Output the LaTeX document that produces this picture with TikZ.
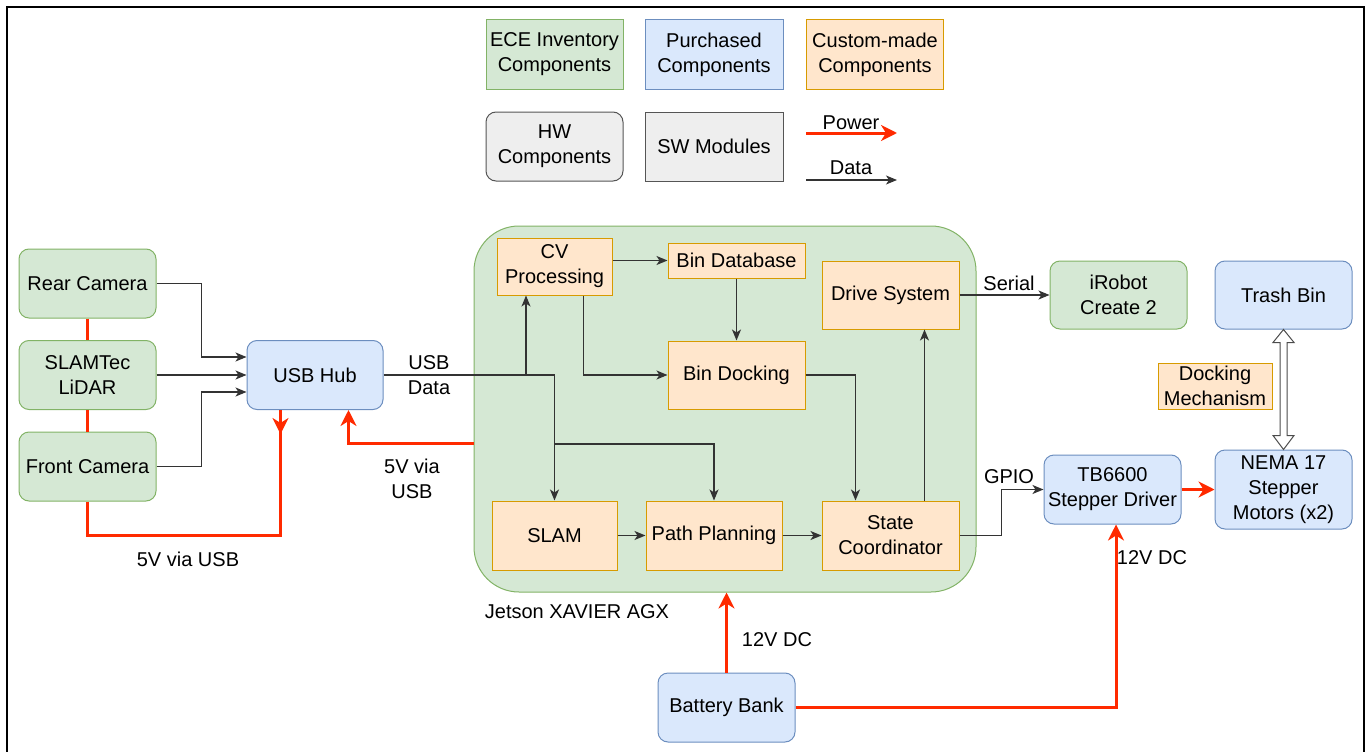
\documentclass[tikz,border=0pt]{standalone}
\usepackage{fontspec}
\setmainfont{Liberation Sans}
\usetikzlibrary{arrows.meta,calc}
\definecolor{ecefill}{HTML}{D5E8D4}
\definecolor{ecedraw}{HTML}{82B366}
\definecolor{buyfill}{HTML}{DAE8FC}
\definecolor{buydraw}{HTML}{6C8EBF}
\definecolor{custfill}{HTML}{FFE6CC}
\definecolor{custdraw}{HTML}{D79B00}
\definecolor{grayfill}{HTML}{EEEEEE}
\definecolor{graydraw}{HTML}{555555}
\definecolor{pwred}{HTML}{FF2A00}

\begin{document}
\begin{tikzpicture}[x=1pt, y=-1pt,
    every node/.style={font=\fontsize{20}{25}\selectfont, align=center, inner sep=2pt},
    compbox/.style={draw, line width=1pt, minimum width=137pt, minimum height=69pt},
    ecebox/.style={compbox, fill=ecefill, draw=ecedraw},
    buybox/.style={compbox, fill=buyfill, draw=buydraw},
    custbox/.style={compbox, fill=custfill, draw=custdraw},
    hwbox/.style={compbox, fill=grayfill, draw=graydraw},
    roundbox/.style={rounded corners=10pt},
    data/.style={draw=black!80, line width=1.2pt, -{Stealth[length=11pt,width=9pt,inset=3pt]}},
    power/.style={draw=pwred, line width=3pt},
    powerarrow/.style={power, -{Stealth[length=16pt,width=16pt,inset=5pt]}},
    lbl/.style={inner sep=0pt}]
    \useasboundingbox (0,0) rectangle (1371,752);
    \draw[line width=2pt] (7,7) rectangle (1364,780);

    % Legend
    \node[ecebox] (legece) at (554.5,54.5) {ECE Inventory\\Components};
    \node[buybox, minimum width=138pt] (legbuy) at (714,54.5) {Purchased\\Components};
    \node[custbox] (legcust) at (875,54.5) {Custom-made\\Components};
    \node[hwbox, roundbox] (leghw) at (554.5,146.5) {HW\\Components};
    \node[hwbox, minimum width=138pt] (legsw) at (714,146.5) {SW Modules};
    \coordinate (legpa) at (806,133);
    \coordinate (legpb) at (897,133);
    \draw[powerarrow] (legpa) -- (legpb);
    \node[lbl] (legpwlbl) at (851,123) {Power};
    \coordinate (legda) at (806,180);
    \coordinate (legdb) at (897,180);
    \draw[data] (legda) -- (legdb);
    \node[lbl] (legdalbl) at (851,168) {Data};

    % Jetson container
    \node[draw=ecedraw, fill=ecefill, line width=1pt, rounded corners=45pt, minimum width=502pt, minimum height=366pt] (jetson) at (725,409) {};
    \node[lbl] (jetsonlbl) at (577,612) {Jetson XAVIER AGX};

    % Sensors
    \node[ecebox, roundbox] (rear) at (87.5,283.5) {Rear Camera};
    \node[ecebox, roundbox] (lidar) at (87.5,375) {SLAMTec\\LiDAR};
    \node[ecebox, roundbox] (front) at (87.5,466.5) {Front Camera};
    \node[buybox, roundbox, minimum width=136pt] (hub) at (315,375) {USB Hub};

    % SW modules
    \node[custbox, minimum width=115pt, minimum height=57pt] (cv) at (554.5,266.5) {CV\\Processing};
    \node[custbox, minimum height=35pt] (bindb) at (736.5,260.5) {Bin Database};
    \node[custbox, minimum height=68pt] (drive) at (890.5,295) {Drive System};
    \node[custbox, minimum height=68pt] (bindock) at (736.5,375) {Bin Docking};
    \node[custbox, minimum width=125pt] (slam) at (554.5,535.5) {SLAM};
    \node[custbox, minimum width=136pt] (path) at (714,535.5) {Path Planning};
    \node[custbox] (state) at (890.5,535.5) {State\\Coordinator};

    % Right side hardware
    \node[ecebox, roundbox, minimum height=68pt] (irobot) at (1118.5,295) {iRobot\\Create 2};
    \node[buybox, roundbox, minimum height=68pt] (trash) at (1283.5,295) {Trash Bin};
    \node[custbox, minimum width=114pt, minimum height=46pt] (dockmech) at (1215,386) {Docking\\Mechanism};
    \node[buybox, roundbox] (tb) at (1112.5,489.5) {TB6600\\Stepper Driver};
    \node[buybox, roundbox, minimum height=79pt] (nema) at (1283.5,489.5) {NEMA 17\\Stepper\\Motors (x2)};
    \node[buybox, roundbox] (battery) at (726.5,707.5) {Battery Bank};

    % Camera data into hub
    \draw[data] (rear.east) -- ++(45,0) |- ($(hub.west)+(0,-18)$);
    \draw[data] (lidar.east) -- (hub.west);
    \draw[data] (front.east) -- ++(45,0) |- ($(hub.west)+(0,17)$);

    % Camera power
    \draw[power] (rear.south) -- (lidar.north);
    \draw[power] (lidar.south) -- (front.north);
    \coordinate (hubpw) at ($(hub.south west)+(34,0)$);
    \draw[power] (front.south) -- ++(0,34) -| (hubpw);
    \draw[powerarrow] (hubpw) -- ++(0,24);
    \node[lbl] (camlbl) at (188,559) {5V via USB};

    % Hub power from Jetson
    \draw[powerarrow] ($(jetson.west)+(0,34)$) -| ($(hub.south west)+(102,0)$);
    \node[lbl] (hubpwlbl) at (412,479) {5V via\\USB};

    % USB data into Jetson
    \draw[data] (hub.east) -| (slam.north);
    \node[lbl] (usblbl) at (429,375) {USB\\Data};
    \coordinate (cvsplit) at (526,375);
    \draw[data] (cvsplit) -- (cvsplit |- cv.south);
    \coordinate (ppsplit) at (554.5,444);
    \draw[data] (ppsplit) -| (path.north);

    % Module links
    \draw[data] (cv.east |- bindb.west) -- (bindb.west);
    \draw[data] (bindb.south) -- (bindock.north);
    \draw[data] ($(cv.south east)+(-29,0)$) |- (bindock.west);
    \draw[data] (bindock.east) -| ($(state.north west)+(34,0)$);
    \draw[data] (slam.east) -- (path.west);
    \draw[data] (path.east) -- (state.west);
    \draw[data] ($(state.north east)+(-35,0)$) -- ($(drive.south east)+(-35,0)$);

    % Outputs
    \draw[data] (drive.east) -- (irobot.west);
    \node[lbl] (seriallbl) at (1009,283) {Serial};
    \draw[data] (state.east) -- ++(42,0) |- (tb.west);
    \node[lbl] (gpiolbl) at (1009,477) {GPIO};
    \draw[powerarrow] (tb.east) -- (nema.west);

    % Docking link
    \draw[draw=black!70, line width=1pt, fill=white] (trash.south) -- ++(10.5,13) -- ++(-7,0)
        -- ($(nema.north)+(3.5,-14)$) -- ++(7,0) -- (nema.north) -- ++(-10.5,-14) -- ++(7,0)
        -- ($(trash.south)+(-3.5,13)$) -- ++(-7,0) -- cycle;

    % Battery power
    \draw[powerarrow] (battery.north) -- (battery.north |- jetson.south);
    \node[lbl] (jetpwlbl) at (777,640) {12V DC};
    \draw[powerarrow] (battery.east) -| ($(tb.south)+(3.5,0)$);
    \node[lbl] (tbpwlbl) at (1152,558) {12V DC};
\end{tikzpicture}
\end{document}
